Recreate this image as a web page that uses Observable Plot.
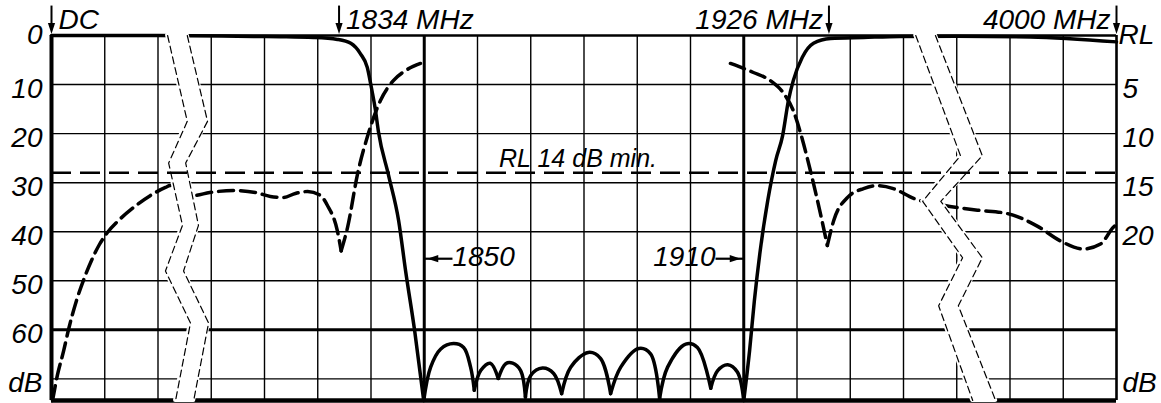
<!DOCTYPE html>
<html>
<head>
<meta charset="utf-8">
<script src="https://cdn.jsdelivr.net/npm/d3@7"></script>
<script src="https://cdn.jsdelivr.net/npm/@observablehq/plot@0.6"></script>
<style>
  html, body { margin: 0; padding: 0; background: #fff; }
  #chart svg { display: block; }
</style>
</head>
<body>
<div id="chart"></div>
<script>
// ---------------- data (x = chart frequency in MHz, broken axis at both ends) ----------------
const gridFreqs = [1780,1790,1800,1810,1820,1830,1840,1850,1860,1870,1880,1890,1900,1910,1920,1930,1940,1950,1960,1970,1980];
const bandEdgeFreqs = [1850, 1910];
const gridDb = [10, 20, 30, 40, 50, 60, 70];
const heavyDb = [60];
const bottomDb = 74.4;

const leftTickValues = [0, 10, 20, 30, 40, 50, 60, 70];
const leftTickLabels = ["0", "10", "20", "30", "40", "50", "60", "dB"];
const rlTickValues = [0, 5, 10, 15, 20, 35];
const rlTickLabels = ["RL", "5", "10", "15", "20", "dB"];

const markerFreqs = [1780, 1834, 1926, 1980];
const markerLabels = ["DC", "1834 MHz", "1926 MHz", "4000 MHz"];
const markerSide = ["right", "right", "left", "left"];

const rlMin = 14;
const rlMinLabel = "RL 14 dB min.";

// attenuation (dB) – solid curve
const skirtLeft = [[1780,0],[1800,0],[1812,0.1],[1818,0.2],[1823,0.25],[1829.2,0.4],[1833.7,0.8],[1836.2,1.6],[1838.0,3.7],[1839.3,6.5],[1840.0,10.2],[1840.8,15.0],[1841.4,19.6],[1843.3,28.5],[1845.2,37.8],[1846.5,48.0],[1848.2,60.2],[1849.9,74.4]];
const skirtRight = [[1910,74.4],[1911.1,64.2],[1912.0,54.0],[1913.1,43.8],[1914.5,33.7],[1916.0,25.5],[1917.3,20.4],[1918.4,13.2],[1919.3,9.2],[1921.0,4.45],[1923.1,1.6],[1926.3,0.6],[1932.5,0.4],[1939.4,0.2],[1950,0.15],[1963.8,0.3],[1980,1.3]];
const rippleArcs = [
  [[1849.9,74.4],[1851.2,67.6],[1853.1,63.9],[1855.5,62.8],[1857.4,63.6],[1858.7,67.6],[1859.4,72.3]],
  [[1859.4,72.3],[1860.6,68.3],[1862.4,66.8],[1863.9,69.9]],
  [[1863.9,69.9],[1865.3,66.9],[1866.6,66.8],[1868.1,68.3],[1869.0,73.7]],
  [[1869.0,73.7],[1870.0,69.3],[1872.2,67.8],[1874.3,68.9],[1875.8,73.0]],
  [[1875.8,73.0],[1877.5,67.6],[1880.8,64.6],[1883.1,65.8],[1885.0,73.0]],
  [[1885.0,73.0],[1886.9,67.6],[1890.3,63.8],[1892.5,64.9],[1894.2,74.0]],
  [[1894.2,74.0],[1895.7,67.6],[1899.1,62.9],[1901.3,63.6],[1903.8,71.9]],
  [[1903.8,71.9],[1905.1,68.3],[1907.0,67.1],[1908.8,68.6],[1910,74.4]]
];

// return loss (RL dB, right axis) – dashed curve
const rlLeftA = [[1780.2,37.2],[1781.1,34.65],[1782.3,32.1],[1783.2,29.96],[1784.7,27.0],[1786.2,24.66],[1787.7,22.7],[1789.0,21.3],[1790.5,20.08],[1792.6,18.85],[1795.4,17.53],[1798.6,16.3],[1801.4,15.49],[1802.3,15.3],[1806.7,16.3],[1809.7,16.0],[1814.2,15.8],[1818.3,16.0],[1821.1,16.4],[1823.6,16.5],[1825.8,16.1],[1828.1,15.9],[1830.5,16.3],[1831.8,17.3],[1833.7,19.95],[1834.4,21.95]];
const rlLeftB = [[1834.4,21.95],[1835.6,19.55],[1837.5,14.05],[1839.5,10.0],[1841.8,6.6],[1844.2,4.6],[1846.5,3.57],[1849.3,2.85]];
const rlRightA = [[1907.5,2.85],[1911.8,3.77],[1915.0,4.6],[1917.5,5.9],[1919.3,7.65],[1920.7,10.0],[1922.5,13.75],[1924.4,18.15],[1925.7,21.4]];
const rlRightB = [[1925.7,21.4],[1926.9,18.85],[1929.5,16.5],[1932.5,15.6],[1935.1,15.3],[1938.1,15.6],[1941.9,16.6],[1947.5,17.3],[1953.9,17.8],[1959.5,18.15],[1965.2,19.45],[1969.5,20.95],[1973.8,21.75],[1977.0,21.25],[1979.4,19.55],[1980,19.25]];

// axis-break bands (left edge / right edge, in chart MHz, at given dB)
const breakLeftDb = [0, 17.5, 26, 38.7, 48, 58.6, 74.4];
const breakLeftA  = [1801.8, 1805.5, 1802.0, 1804.6, 1801.4, 1806.1, 1803.3];
const breakLeftB  = [1805.5, 1809.3, 1805.2, 1807.6, 1804.8, 1809.5, 1806.7];
const breakRightDb = [0, 24.5, 33.8, 45.3, 55.1, 74.4];
const breakRightA  = [1942.3, 1950.7, 1943.6, 1951.1, 1946.6, 1953.0];
const breakRightB  = [1946.0, 1954.8, 1947.0, 1954.8, 1950.3, 1957.3];

// ---------------- tables ----------------
const rows = (segs) => segs.flatMap((pts, k) => pts.map(([f, v]) => ({f, v, seg: k})));
const skirtRows = rows([skirtLeft, skirtRight]);
const rippleRows = rows(rippleArcs);
const rlRows = rows([rlLeftA, rlLeftB, rlRightA, rlRightB]);
const breakRows = (db, a, b) => db.map((d, i) => ({db: d, a: a[i], b: b[i]}));
const breaks = [breakRows(breakLeftDb, breakLeftA, breakLeftB), breakRows(breakRightDb, breakRightA, breakRightB)];
const leftTicks = leftTickValues.map((v, i) => ({v, label: leftTickLabels[i]}));
const rlTicks = rlTickValues.map((v, i) => ({v, label: rlTickLabels[i]}));
const markers = markerFreqs.map((f, i) => ({f, label: markerLabels[i], side: markerSide[i]}));
const bandEdges = bandEdgeFreqs.map((f, i) => ({f, dir: i === 0 ? 1 : -1, label: String(f)}));

const headDown = {draw(ctx) { ctx.moveTo(0, 0); ctx.lineTo(-3.6, -11); ctx.lineTo(3.6, -11); ctx.closePath(); }};

const FONT = 28;
const ink = "black";

const marks = [
  // grid
  Plot.ruleX(gridFreqs, {x: d => d, y1: 0, y2: bottomDb, stroke: ink, strokeWidth: 1.4}),
  Plot.ruleY(gridDb, {y: d => d, x1: 1780, x2: 1980, stroke: ink, strokeWidth: 1.4}),
  Plot.ruleY(heavyDb, {y: d => d, x1: 1780, x2: 1980, stroke: ink, strokeWidth: 3}),
  Plot.ruleX(bandEdgeFreqs, {x: d => d, y1: 0, y2: bottomDb, stroke: ink, strokeWidth: 3}),
  // frame
  Plot.ruleY([0], {y: d => d, x1: 1780, x2: 1980, stroke: ink, strokeWidth: 2.5}),
  Plot.ruleY([bottomDb], {y: d => d, x1: 1780, x2: 1980, stroke: ink, strokeWidth: 4.5}),
  Plot.ruleX([gridFreqs[0]], {x: d => d, y1: 0, y2: bottomDb, stroke: ink, strokeWidth: 4}),
  Plot.ruleX([gridFreqs[gridFreqs.length - 1]], {x: d => d, y1: 0, y2: bottomDb, stroke: ink, strokeWidth: 2.5}),
  // curves
  Plot.line(skirtRows, {x: "f", y: "v", z: "seg", curve: "monotone-x", stroke: ink, strokeWidth: 3.5}),
  Plot.line(rippleRows, {x: "f", y: "v", z: "seg", curve: "catmull-rom", stroke: ink, strokeWidth: 3.5}),
  Plot.line(rlRows, {x: "f", y: d => 2 * d.v, z: "seg", curve: "monotone-x", stroke: ink, strokeWidth: 3.5, strokeDasharray: "15,7"}),
  // axis breaks
  ...breaks.flatMap(b => [
    Plot.areaX(b, {y: "db", x1: "a", x2: "b", fill: "white", stroke: "white", strokeWidth: 4, curve: "linear"}),
    Plot.line(b, {x: "a", y: "db", stroke: ink, strokeWidth: 1.2, strokeDasharray: "7,4"}),
    Plot.line(b, {x: "b", y: "db", stroke: ink, strokeWidth: 1.2, strokeDasharray: "7,4"})
  ]),
  // RL minimum
  Plot.ruleY([rlMin], {y: d => 2 * d, x1: 1780, x2: 1980, stroke: ink, strokeWidth: 2.5, strokeDasharray: "20,9"}),
  Plot.text([rlMinLabel], {x: (bandEdgeFreqs[0] + bandEdgeFreqs[1]) / 2, y: 2 * rlMin, text: d => d, dx: -6, dy: -6, lineAnchor: "bottom", textAnchor: "middle", fontSize: 25, fill: ink}),
  // left tick labels
  Plot.text(leftTicks.filter(d => d.v !== 0), {x: 1780, y: "v", text: "label", textAnchor: "end", dx: -9, dy: 4, fontSize: FONT, fill: ink}),
  Plot.text(leftTicks.filter(d => d.v === 0), {x: 1780, y: "v", text: "label", textAnchor: "end", dx: -9, dy: 0, fontSize: FONT, fill: ink}),
  // right (RL) tick labels
  Plot.text(rlTicks.filter(d => d.v !== 0), {x: 1980, y: d => 2 * d.v, text: "label", textAnchor: "start", dx: 6, dy: 4, fontSize: FONT, fill: ink}),
  Plot.text(rlTicks.filter(d => d.v === 0), {x: 1980, y: d => 2 * d.v, text: "label", textAnchor: "start", dx: 2, dy: 0, fontSize: FONT, fill: ink}),
  // top frequency markers
  Plot.ruleX(markers, {x: "f", y1: -6, y2: -1.5, stroke: ink, strokeWidth: 2}),
  Plot.dot(markers, {x: "f", y: 0, dy: -1.5, symbol: headDown, fill: ink, stroke: null, r: 4}),
  Plot.text(markers.filter(d => d.side === "right"), {x: "f", y: 0, text: "label", textAnchor: "start", dx: 7, dy: -7, lineAnchor: "bottom", fontSize: FONT, fill: ink}),
  Plot.text(markers.filter(d => d.side === "left"), {x: "f", y: 0, text: "label", textAnchor: "end", dx: -6, dy: -7, lineAnchor: "bottom", fontSize: FONT, fill: ink}),
  // band-edge arrows
  Plot.link(bandEdges, {x1: "f", x2: d => d.f + d.dir * 5.3, y1: 45.5, y2: 45.5, stroke: ink, strokeWidth: 2.2}),
  Plot.dot(bandEdges.filter(d => d.dir > 0), {x: "f", y: 45.5, dx: 3, symbol: headDown, rotate: 90, fill: ink, stroke: null, r: 4}),
  Plot.dot(bandEdges.filter(d => d.dir < 0), {x: "f", y: 45.5, dx: -3, symbol: headDown, rotate: -90, fill: ink, stroke: null, r: 4}),
  Plot.text(bandEdges.filter(d => d.dir > 0), {x: d => d.f + d.dir * 5.3, y: 45.5, text: "label", textAnchor: "start", dy: 7, lineAnchor: "bottom", fontSize: FONT, fill: ink}),
  Plot.text(bandEdges.filter(d => d.dir < 0), {x: d => d.f + d.dir * 5.3, y: 45.5, text: "label", textAnchor: "end", dy: 7, lineAnchor: "bottom", fontSize: FONT, fill: ink})
];

const chart = Plot.plot({
  width: 1161,
  height: 403,
  marginTop: 0, marginRight: 0, marginBottom: 0, marginLeft: 0,
  x: {domain: [1780, 1980], range: [51, 1116], axis: null},
  y: {domain: [0, bottomDb], range: [35, 400], axis: null},
  style: {fontFamily: '"Liberation Sans", Arial, sans-serif', fontStyle: "italic", background: "white", color: "black", overflow: "visible"},
  marks
});
document.getElementById("chart").appendChild(chart);
</script>
</body>
</html>
